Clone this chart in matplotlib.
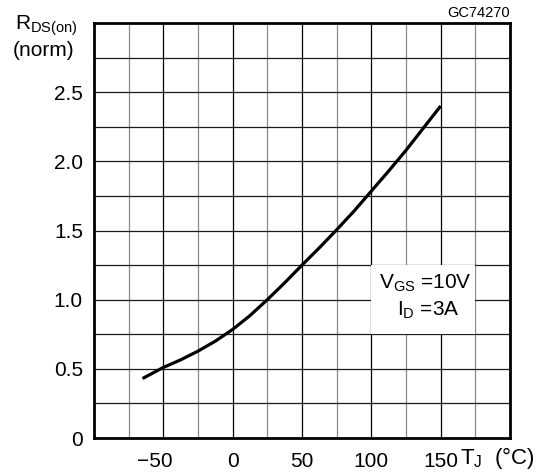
import numpy as np
import matplotlib
matplotlib.use("Agg")
import matplotlib.pyplot as plt
import matplotlib.patches as pat
from matplotlib.transforms import ScaledTranslation

plt.rcParams['font.family'] = ['Liberation Sans', 'DejaVu Sans']
plt.rcParams['mathtext.fontset'] = 'custom'
plt.rcParams['mathtext.rm'] = 'Liberation Sans'
plt.rcParams['mathtext.it'] = 'Liberation Sans'

# Normalised on-resistance vs junction temperature
tj = [-65, -50, -37.5, -25, -12.5, 0, 12.5, 25, 37.5, 50, 62.5, 75, 87.5, 100, 112.5, 125, 137.5, 150]
rds_norm = [0.43, 0.51, 0.565, 0.628, 0.70, 0.785, 0.885, 1.0, 1.122, 1.25, 1.375, 1.505, 1.64, 1.785, 1.93, 2.08, 2.24, 2.40]

x_ticks = [-50, 0, 50, 100, 150]
x_ticklabels = ['\u221250', '0', '50', '100', '150']
y_ticks = [0, 0.5, 1.0, 1.5, 2.0, 2.5]
y_ticklabels = ['0', '0.5', '1.0', '1.5', '2.0', '2.5']

fig = plt.figure(figsize=(5.46, 4.74), dpi=100)
ax = fig.add_axes([94/546, 1-438/474, (510-94)/546, (438-23)/474])
ax.set_xlim(-100, 200)
ax.set_ylim(0, 3)

# grid: major verticals black, minor verticals grey, horizontals dark
for x in np.arange(-75, 200, 25):
    col = 'black' if x % 50 == 0 else '#8a8a8a'
    ax.axvline(x, color=col, lw=0.9, zorder=1)
for y in np.arange(0.25, 3.0, 0.25):
    ax.axhline(y, color='#1a1a1a', lw=0.9, zorder=1)

# white box behind the conditions text
ax.add_patch(pat.Rectangle((100, 0.75), 75, 0.5, facecolor='white', edgecolor='none', zorder=2))

ax.plot(tj, rds_norm, color='black', lw=2.3, zorder=3, solid_capstyle='butt')

ax.text(139, 1.115, r'V$_{\mathrm{GS}}$ =10V', fontsize=15, ha='center', va='center', zorder=4)
ax.text(141, 0.92, r'I$_{\mathrm{D}}$ =3A', fontsize=15, ha='center', va='center', zorder=4)

for s in ax.spines.values():
    s.set_linewidth(2.0)
ax.tick_params(length=0, labelsize=15)
ax.tick_params(axis='x', pad=10)
ax.tick_params(axis='y', pad=8)
ax.set_xticks(x_ticks)
ax.set_xticklabels(x_ticklabels)
ax.set_yticks(y_ticks)
ax.set_yticklabels(y_ticklabels)
# the minus sign hangs to the left of the digits
lbl = ax.get_xticklabels()[0]
lbl.set_transform(lbl.get_transform() + ScaledTranslation(-9/100, 0, fig.dpi_scale_trans))

fig.text(15/546, 1-26/474, r'R$_{\mathrm{DS(on)}}$', fontsize=15, va='center', ha='left')
fig.text(13/546, 1-50/474, '(norm)', fontsize=15, va='center', ha='left')
fig.text(460/546, 1-458/474, r'T$_{\mathrm{J}}$  (°C)', fontsize=16, va='center', ha='left')
fig.text(510/546, 1-13/474, 'GC74270', fontsize=10.5, va='center', ha='right')

fig.savefig('out.png', dpi=100)
